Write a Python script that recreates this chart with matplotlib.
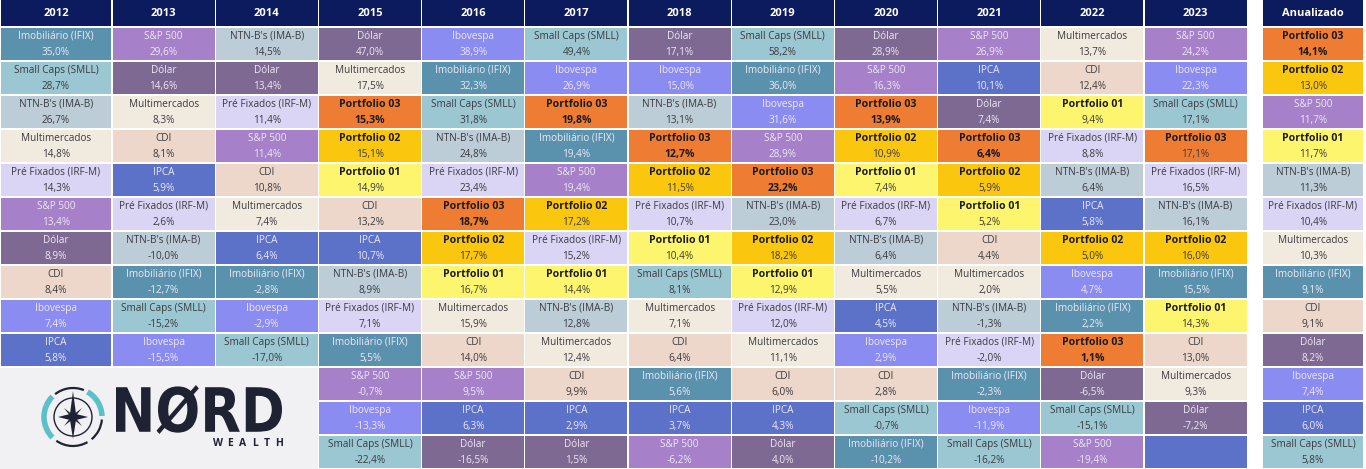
import matplotlib
matplotlib.use('Agg')
import matplotlib.pyplot as plt
from matplotlib.patches import Rectangle, Arc, Circle, Polygon, PathPatch
from matplotlib.textpath import TextPath
from matplotlib.font_manager import FontProperties
from matplotlib.transforms import Affine2D

# asset names
IFIX = 'Imobiliário (IFIX)'
SMLL = 'Small Caps (SMLL)'
IMAB = "NTN-B's (IMA-B)"
MULT = 'Multimercados'
IRFM = 'Pré Fixados (IRF-M)'
SP = 'S&P 500'
USD = 'Dólar'
CDI = 'CDI'
IBOV = 'Ibovespa'
IPCA = 'IPCA'
P1 = 'Portfolio 01'
P2 = 'Portfolio 02'
P3 = 'Portfolio 03'

years = ['2012', '2013', '2014', '2015', '2016', '2017', '2018', '2019',
         '2020', '2021', '2022', '2023']

names_2012 = [IFIX, SMLL, IMAB, MULT, IRFM, SP, USD, CDI, IBOV, IPCA]
vals_2012 = [35.0, 28.7, 26.7, 14.8, 14.3, 13.4, 8.9, 8.4, 7.4, 5.8]
names_2013 = [SP, USD, MULT, CDI, IPCA, IRFM, IMAB, IFIX, SMLL, IBOV]
vals_2013 = [29.6, 14.6, 8.3, 8.1, 5.9, 2.6, -10.0, -12.7, -15.2, -15.5]
names_2014 = [IMAB, USD, IRFM, SP, CDI, MULT, IPCA, IFIX, IBOV, SMLL]
vals_2014 = [14.5, 13.4, 11.4, 11.4, 10.8, 7.4, 6.4, -2.8, -2.9, -17.0]
names_2015 = [USD, MULT, P3, P2, P1, CDI, IPCA, IMAB, IRFM, IFIX, SP, IBOV, SMLL]
vals_2015 = [47.0, 17.5, 15.3, 15.1, 14.9, 13.2, 10.7, 8.9, 7.1, 5.5, -0.7, -13.3, -22.4]
names_2016 = [IBOV, IFIX, SMLL, IMAB, IRFM, P3, P2, P1, MULT, CDI, SP, IPCA, USD]
vals_2016 = [38.9, 32.3, 31.8, 24.8, 23.4, 18.7, 17.7, 16.7, 15.9, 14.0, 9.5, 6.3, -16.5]
names_2017 = [SMLL, IBOV, P3, IFIX, SP, P2, IRFM, P1, IMAB, MULT, CDI, IPCA, USD]
vals_2017 = [49.4, 26.9, 19.8, 19.4, 19.4, 17.2, 15.2, 14.4, 12.8, 12.4, 9.9, 2.9, 1.5]
names_2018 = [USD, IBOV, IMAB, P3, P2, IRFM, P1, SMLL, MULT, CDI, IFIX, IPCA, SP]
vals_2018 = [17.1, 15.0, 13.1, 12.7, 11.5, 10.7, 10.4, 8.1, 7.1, 6.4, 5.6, 3.7, -6.2]
names_2019 = [SMLL, IFIX, IBOV, SP, P3, IMAB, P2, P1, IRFM, MULT, CDI, IPCA, USD]
vals_2019 = [58.2, 36.0, 31.6, 28.9, 23.2, 23.0, 18.2, 12.9, 12.0, 11.1, 6.0, 4.3, 4.0]
names_2020 = [USD, SP, P3, P2, P1, IRFM, IMAB, MULT, IPCA, IBOV, CDI, SMLL, IFIX]
vals_2020 = [28.9, 16.3, 13.9, 10.9, 7.4, 6.7, 6.4, 5.5, 4.5, 2.9, 2.8, -0.7, -10.2]
names_2021 = [SP, IPCA, USD, P3, P2, P1, CDI, MULT, IMAB, IRFM, IFIX, IBOV, SMLL]
vals_2021 = [26.9, 10.1, 7.4, 6.4, 5.9, 5.2, 4.4, 2.0, -1.3, -2.0, -2.3, -11.9, -16.2]
names_2022 = [MULT, CDI, P1, IRFM, IMAB, IPCA, P2, IBOV, IFIX, P3, USD, SMLL, SP]
vals_2022 = [13.7, 12.4, 9.4, 8.8, 6.4, 5.8, 5.0, 4.7, 2.2, 1.1, -6.5, -15.1, -19.4]
names_2023 = [SP, IBOV, SMLL, P3, IRFM, IMAB, P2, IFIX, P1, CDI, MULT, USD, IPCA]
vals_2023 = [24.2, 22.3, 17.1, 17.1, 16.5, 16.1, 16.0, 15.5, 14.3, 13.0, 9.3, -7.2, None]
names_anual = [P3, P2, SP, P1, IMAB, IRFM, MULT, IFIX, CDI, USD, IBOV, IPCA, SMLL]
vals_anual = [14.1, 13.0, 11.7, 11.7, 11.3, 10.4, 10.3, 9.1, 9.1, 8.2, 7.4, 6.0, 5.8]

all_names = [names_2012, names_2013, names_2014, names_2015, names_2016, names_2017,
             names_2018, names_2019, names_2020, names_2021, names_2022, names_2023]
all_vals = [vals_2012, vals_2013, vals_2014, vals_2015, vals_2016, vals_2017,
            vals_2018, vals_2019, vals_2020, vals_2021, vals_2022, vals_2023]

# (fill, text colour)
LIGHT = '#eee8f6'
DARK = '#3b3b40'
style = {
    IFIX: ('#5a92ae', LIGHT),
    SMLL: ('#9bc7d2', DARK),
    IMAB: ('#bccdd7', DARK),
    MULT: ('#f1eadf', DARK),
    IRFM: ('#dbd5f5', DARK),
    SP: ('#a680c8', LIGHT),
    USD: ('#7d6991', LIGHT),
    CDI: ('#ecd7ca', DARK),
    IBOV: ('#8b8cf1', LIGHT),
    IPCA: ('#5c72c9', LIGHT),
    P3: ('#ee7d33', '#1a1a1a'),
    P2: ('#fbc60e', '#1a1a1a'),
    P1: ('#fdf56e', '#1a1a1a'),
}
NAVY = '#0c1b5d'

FONT = 'Open Sans'
W, H = 1366, 469
HEAD = 27
ROW = 34


def fmt(v):
    return f'{v:.1f}'.replace('.', ',') + '%'


fig = plt.figure(figsize=(W / 100, H / 100), dpi=100)
fig.patch.set_facecolor('white')
ax = fig.add_axes([0, 0, 1, 1])
ax.set_xlim(0, W)
ax.set_ylim(H, 0)
ax.axis('off')


def draw_column(x0, w, title, names, vals, bold_p3=True):
    ax.add_patch(Rectangle((x0 + 0.6, 0), w - 1.2, HEAD - 0.8, color=NAVY, lw=0))
    ax.text(x0 + w / 2, HEAD / 2, title, color='white', fontsize=8, fontweight='bold',
            ha='center', va='center', family=FONT)
    for ri, (n, v) in enumerate(zip(names, vals)):
        y0 = HEAD + ROW * ri
        fill, tc = style[n]
        ax.add_patch(Rectangle((x0 + 0.6, y0 + 0.6), w - 1.2, ROW - 1.2, color=fill, lw=0))
        if v is None:
            continue
        port = n.startswith('Portfolio')
        ax.text(x0 + w / 2, y0 + 9.5, n, color=tc, fontsize=7.2 if not port else 7.6,
                fontweight='bold' if port else 'normal', ha='center', va='center', family=FONT)
        vb = (n == P3 and bold_p3)
        ax.text(x0 + w / 2, y0 + 25, fmt(v), color='#1a1a1a' if vb else (DARK if port else tc),
                fontsize=7.2 if not vb else 7.6, fontweight='bold' if vb else 'normal',
                ha='center', va='center', family=FONT)


edges = [0, 112] + [112 + 103.2 * k for k in range(1, 12)]
for i, y in enumerate(years):
    draw_column(edges[i], edges[i + 1] - edges[i], y, all_names[i], all_vals[i],
                bold_p3=(y != '2023'))
draw_column(1262, 102, 'Anualizado', names_anual, vals_anual)

# logo area
ax.add_patch(Rectangle((0, HEAD + ROW * 10 + 0.6), edges[3], H, color='#f1f1f3', lw=0))
cx, cy = 73, 417
ax.add_patch(Circle((cx, cy), 19, fill=False, ec='#1f2233', lw=1.0))
teal = '#5cc0c9'
dark = '#1f2233'
for t1, t2, c, lw in [(135, 225, teal, 4.0), (300, 358, teal, 4.0), (232, 292, dark, 1.6),
                      (60, 125, dark, 1.6), (5, 50, dark, 1.6)]:
    ax.add_patch(Arc((cx, cy), 58, 58, theta1=t1, theta2=t2, color=c, lw=lw))
# compass star
star = [(cx, cy - 26), (cx + 3, cy - 3), (cx + 15, cy), (cx + 3, cy + 3), (cx, cy + 22),
        (cx - 3, cy + 3), (cx - 15, cy), (cx - 3, cy - 3)]
ax.add_patch(Polygon(star, closed=True, color=dark, lw=0))
diag = [(cx + 9, cy - 9), (cx + 2, cy), (cx + 9, cy + 9), (cx, cy + 2), (cx - 9, cy + 9),
        (cx - 2, cy), (cx - 9, cy - 9), (cx, cy - 2)]
ax.add_patch(Polygon(diag, closed=True, color=dark, lw=0))

tp = TextPath((0, 0), 'NØRD', size=100, prop=FontProperties(family='DejaVu Sans', weight='bold'))
bb = tp.get_extents()
bx0, bx1, by0, by1 = 116, 282, 385, 434
sx = (bx1 - bx0) / bb.width
sy = (by1 - by0) / bb.height
tr = Affine2D().translate(-bb.x0, -bb.y0).scale(sx, -sy).translate(bx0, by1)
ax.add_patch(PathPatch(tr.transform_path(tp), color=dark, lw=0))
for k, ch in enumerate('WEALTH'):
    ax.text(218 + k * 12.2, 444, ch, color=dark, fontsize=7.5, fontweight='bold',
            ha='center', va='center', family=FONT)

fig.savefig('out.png', dpi=100, facecolor='white')
